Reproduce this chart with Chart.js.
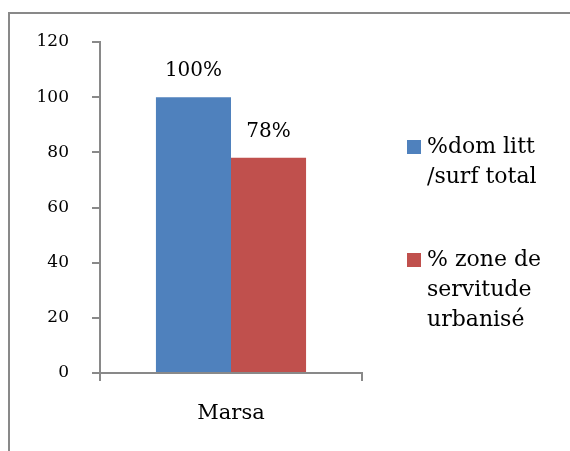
<!DOCTYPE html>
<html>
<head>
<meta charset="utf-8">
<script src="https://cdn.jsdelivr.net/npm/chart.js@4.4.0/dist/chart.umd.min.js"></script>
<style>
  body { margin: 0; background: #fff; }
  canvas { display: block; }
</style>
</head>
<body>
<canvas id="chart" width="570" height="451"></canvas>
<script>
// data
const categories = ['Marsa'];
const domLitt = [100];
const zoneServitude = [78];
const valueLabels = [['100%'], ['78%']];
const legendLines = [['%dom litt', '/surf total'], ['% zone de', 'servitude', 'urbanisé']];
const yTicks = { min: 0, max: 120, step: 20 };

const colors = ['#4F81BD', '#C0504D'];
const axisGray = '#898989';
const fontFamily = '"DejaVu Serif", "Liberation Serif", serif';

// outer frame
const framePlugin = {
    id: 'frame',
    beforeDraw(chart) {
        const ctx = chart.ctx;
        ctx.save();
        ctx.fillStyle = '#fff';
        ctx.fillRect(0, 0, chart.width, chart.height);
        ctx.strokeStyle = axisGray;
        ctx.lineWidth = 2;
        ctx.strokeRect(9, 13, chart.width + 20, chart.height + 20);
        ctx.restore();
    }
};

// percentage labels above the bars
const valueLabelPlugin = {
    id: 'valueLabels',
    afterDatasetsDraw(chart) {
        const ctx = chart.ctx;
        ctx.save();
        ctx.font = '20px ' + fontFamily;
        ctx.fillStyle = '#000';
        ctx.textAlign = 'center';
        ctx.textBaseline = 'middle';
        chart.data.datasets.forEach((ds, i) => {
            chart.getDatasetMeta(i).data.forEach((bar, j) => {
                ctx.fillText(valueLabels[i][j], bar.x, bar.y - 26);
            });
        });
        ctx.restore();
    }
};

// legend on the right with wrapped labels
const sideLegendPlugin = {
    id: 'sideLegend',
    afterDraw(chart) {
        const ctx = chart.ctx;
        const tops = [140, 253];
        ctx.save();
        ctx.font = '22px ' + fontFamily;
        ctx.textAlign = 'left';
        ctx.textBaseline = 'middle';
        chart.data.datasets.forEach((ds, i) => {
            ctx.fillStyle = ds.backgroundColor;
            ctx.fillRect(407, tops[i], 14, 14);
            ctx.fillStyle = '#000';
            legendLines[i].forEach((line, k) => {
                ctx.fillText(line, 427, tops[i] + 7 + k * 30);
            });
        });
        ctx.restore();
    }
};

new Chart(document.getElementById('chart').getContext('2d'), {
    type: 'bar',
    data: {
        labels: categories,
        datasets: [{
            label: legendLines[0].join(' '),
            data: domLitt,
            backgroundColor: colors[0]
        }, {
            label: legendLines[1].join(' '),
            data: zoneServitude,
            backgroundColor: colors[1]
        }]
    },
    options: {
        responsive: false,
        animation: false,
        devicePixelRatio: 1,
        layout: { padding: { left: 0, top: 42, right: 208, bottom: 0 } },
        datasets: { bar: { categoryPercentage: 0.573, barPercentage: 1 } },
        plugins: {
            legend: { display: false },
            tooltip: { enabled: false }
        },
        scales: {
            x: {
                afterFit(scale) { scale.height = 78; },
                grid: { drawOnChartArea: false, color: axisGray, lineWidth: 2, tickLength: 8 },
                border: { color: axisGray, width: 2 },
                ticks: { color: '#000', font: { family: fontFamily, size: 21 }, padding: 20 }
            },
            y: {
                min: yTicks.min,
                max: yTicks.max,
                afterFit(scale) { scale.width = 100; },
                grid: { drawOnChartArea: false, color: axisGray, lineWidth: 2, tickLength: 8 },
                border: { color: axisGray, width: 2 },
                ticks: {
                    stepSize: yTicks.step,
                    color: '#000',
                    font: { family: fontFamily, size: 17 },
                    padding: 23
                }
            }
        }
    },
    plugins: [framePlugin, valueLabelPlugin, sideLegendPlugin]
});
</script>
</body>
</html>
